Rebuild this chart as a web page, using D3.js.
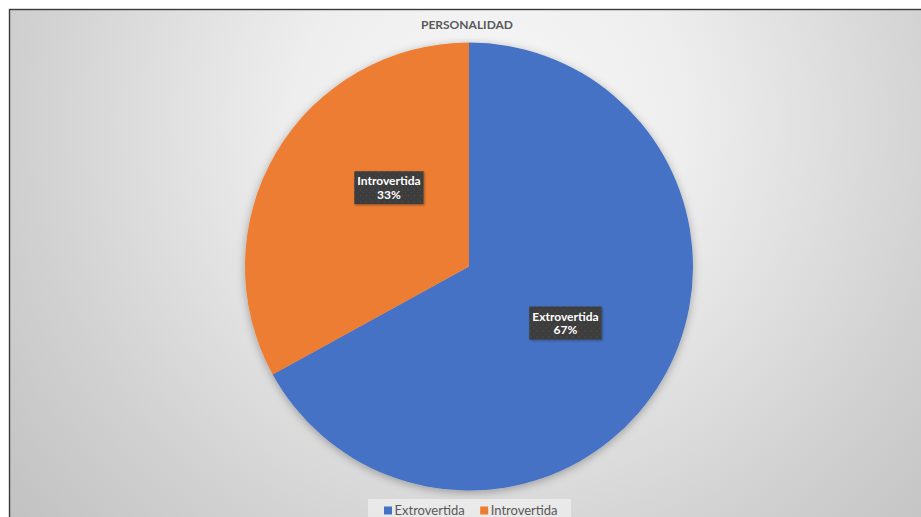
<!DOCTYPE html>
<html>
<head>
<meta charset="utf-8">
<script src="https://cdn.jsdelivr.net/npm/d3@7"></script>
<style>
  html, body { margin: 0; padding: 0; background: #ffffff; }
  svg { display: block; }
  text { font-family: Lato, "Open Sans", sans-serif; }
</style>
</head>
<body>
<svg id="chart" width="921" height="517"></svg>
<script>
// Survey result: personality type split
const chartTitle = "PERSONALIDAD";
const categories = ["Extrovertida", "Introvertida"];
const values = [67, 33];
const sliceColors = ["#4472C4", "#ED7D31"];

const W = 921, H = 517;
const svg = d3.select("#chart");
const defs = svg.append("defs");

// chart-area background: soft radial grey gradient
const bg = defs.append("radialGradient")
  .attr("id", "bgGrad")
  .attr("gradientUnits", "userSpaceOnUse")
  .attr("cx", 490).attr("cy", 120).attr("r", 640);
[[0, "#f7f7f7"], [0.3, "#eeeeee"], [0.72, "#d1d1d1"], [1, "#c0c0c0"]]
  .forEach(([o, c]) => bg.append("stop").attr("offset", o).attr("stop-color", c));

// soft outer shadow for the pie
const sh = defs.append("filter").attr("id", "pieShadow")
  .attr("x", "-20%").attr("y", "-20%").attr("width", "140%").attr("height", "140%");
sh.append("feDropShadow").attr("dx", 0).attr("dy", 2)
  .attr("stdDeviation", 4).attr("flood-color", "#000").attr("flood-opacity", 0.3);

// small shadow for label boxes
const lsh = defs.append("filter").attr("id", "labelShadow")
  .attr("x", "-20%").attr("y", "-20%").attr("width", "140%").attr("height", "140%");
lsh.append("feDropShadow").attr("dx", 1).attr("dy", 1)
  .attr("stdDeviation", 1).attr("flood-color", "#000").attr("flood-opacity", 0.35);

// dotted dark fill for the data-label boxes
const pat = defs.append("pattern").attr("id", "labelFill")
  .attr("patternUnits", "userSpaceOnUse").attr("width", 6).attr("height", 6);
pat.append("rect").attr("width", 6).attr("height", 6).attr("fill", "#3d3d3d");
pat.append("rect").attr("x", 1).attr("y", 1).attr("width", 1).attr("height", 1).attr("fill", "#555555");
pat.append("rect").attr("x", 4).attr("y", 4).attr("width", 1).attr("height", 1).attr("fill", "#4d4d4d");

// chart area with frame
svg.append("rect")
  .attr("x", 9.5).attr("y", 9.5)
  .attr("width", W + 20).attr("height", H + 20)
  .attr("fill", "url(#bgGrad)")
  .attr("stroke", "#3a3a3a").attr("stroke-width", 1.4);

// title
svg.append("text")
  .attr("x", 467).attr("y", 29)
  .attr("text-anchor", "middle")
  .attr("font-size", 12).attr("font-weight", 700)
  .attr("fill", "#595959")
  .text(chartTitle);

// pie
const cx = 469, cy = 266.5, radius = 224;
const total = d3.sum(values);
const data = categories.map((c, i) => ({ name: c, value: values[i], color: sliceColors[i] }));

const pie = d3.pie().sort(null).value(d => d.value);
const arcs = pie(data);
const arc = d3.arc().innerRadius(0).outerRadius(radius);

const g = svg.append("g").attr("transform", `translate(${cx},${cy})`);
g.append("g").attr("filter", "url(#pieShadow)")
  .selectAll("path").data(arcs).join("path")
  .attr("d", arc)
  .attr("fill", d => d.data.color);

// data labels (best-fit placement nudges the smaller slice's label toward its upper side)
const labelNudge = { Introvertida: 0.24 };
const pct = d3.format(".0%");
const labelG = g.selectAll("g.lbl").data(arcs).join("g").attr("class", "lbl")
  .attr("transform", d => {
    const a = (d.startAngle + d.endAngle) / 2 + (labelNudge[d.data.name] || 0);
    const r = radius * 0.5;
    return `translate(${r * Math.sin(a)},${-r * Math.cos(a)})`;
  });

labelG.each(function(d) {
  const sel = d3.select(this);
  const t = sel.append("text")
    .attr("text-anchor", "middle")
    .attr("font-size", 12).attr("font-weight", 700)
    .attr("fill", "#ffffff");
  t.append("tspan").attr("x", 0).attr("y", -3).text(d.data.name);
  t.append("tspan").attr("x", 0).attr("y", 10.5).text(pct(d.data.value / total));
  const bb = t.node().getBBox();
  sel.insert("rect", "text")
    .attr("x", bb.x - 3).attr("y", -17)
    .attr("width", bb.width + 6).attr("height", 33)
    .attr("fill", "url(#labelFill)")
    .attr("filter", "url(#labelShadow)");
});

// legend
const legend = svg.append("g");
legend.append("rect")
  .attr("x", 368).attr("y", 499).attr("width", 203).attr("height", 24)
  .attr("fill", "#ffffff").attr("fill-opacity", 0.45);

const legendItems = legend.selectAll("g.item").data(data).join("g").attr("class", "item");
let lx = 384;
legendItems.each(function(d) {
  const it = d3.select(this);
  it.append("rect").attr("x", lx).attr("y", 506.5).attr("width", 8).attr("height", 8).attr("fill", d.color);
  const tx = it.append("text").attr("x", lx + 10.5).attr("y", 515)
    .attr("font-size", 13).attr("fill", "#595959").text(d.name);
  lx += 10.5 + tx.node().getComputedTextLength() + 15.5;
});
</script>
</body>
</html>
